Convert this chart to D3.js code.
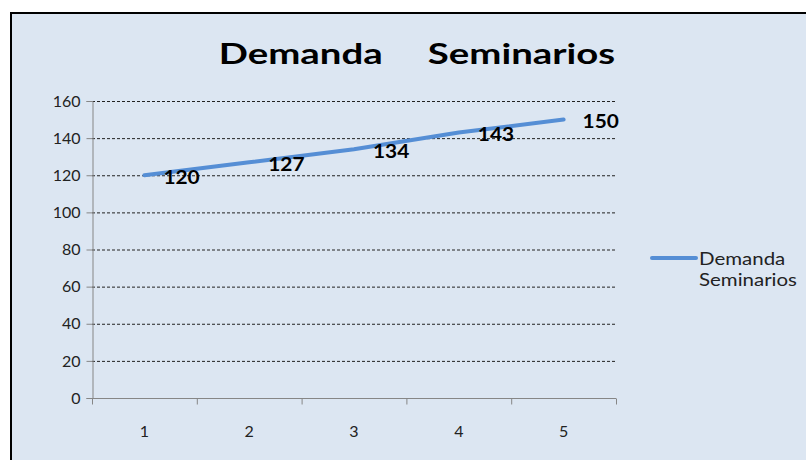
<!DOCTYPE html>
<html>
<head>
<meta charset="utf-8">
<script src="https://cdn.jsdelivr.net/npm/d3@7"></script>
<style>
  html, body { margin: 0; padding: 0; background: #fff; }
  svg { display: block; }
</style>
</head>
<body>
<svg width="806" height="460"></svg>
<script>
  // chart data
  var categories = ['1', '2', '3', '4', '5'];
  var values = [120, 127, 134, 143, 150];
  var yTicks = [0, 20, 40, 60, 80, 100, 120, 140, 160];
  var seriesName = ['Demanda', 'Seminarios'];
  var titleWords = ['Demanda', 'Seminarios'];

  var svg = d3.select('svg');
  var font = 'Lato, "Open Sans", sans-serif';
  var lineColor = '#558ed5';

  // text in the picture is a bit wider than Lato, so stretch it sideways
  function wideText(parent, px, py, sx) {
    return parent.append('g')
      .attr('transform', 'translate(' + px + ',' + py + ') scale(' + sx + ',1)')
      .append('text')
      .style('font-family', font);
  }

  // frame + background
  svg.append('rect')
    .attr('x', 11).attr('y', 13)
    .attr('width', 806).attr('height', 460)
    .attr('fill', '#dce6f2')
    .attr('stroke', '#000')
    .attr('stroke-width', 2);

  var margin = { left: 92, top: 101, right: 616, bottom: 398 };

  var x = d3.scaleBand()
    .domain(categories)
    .range([margin.left, margin.right]);
  var y = d3.scaleLinear()
    .domain([0, 160])
    .range([margin.bottom, margin.top]);

  // title
  var title = wideText(svg, 417, 64, 1.37)
    .attr('text-anchor', 'middle')
    .style('font-weight', 'bold')
    .style('font-size', '28px')
    .attr('fill', '#000');
  title.append('tspan').text(titleWords[0]);
  title.append('tspan').attr('dx', 33).text(titleWords[1]);

  // gridlines
  svg.append('g')
    .selectAll('line')
    .data(yTicks.filter(function(d) { return d > 0; }))
    .enter().append('line')
      .attr('x1', margin.left).attr('x2', margin.right)
      .attr('y1', function(d) { return y(d) + 0.5; })
      .attr('y2', function(d) { return y(d) + 0.5; })
      .attr('stroke', '#222')
      .attr('stroke-width', 1)
      .attr('stroke-dasharray', '3,2');

  // y axis
  var yAxis = svg.append('g')
    .attr('transform', 'translate(' + (margin.left + 0.5) + ',0)')
    .call(d3.axisLeft(y).tickValues(yTicks).tickSize(6).tickPadding(6));
  yAxis.select('.domain').attr('stroke', '#868686');
  yAxis.selectAll('.tick line').attr('stroke', '#868686');
  yAxis.selectAll('text')
    .style('font-family', font)
    .style('font-size', '16px')
    .attr('fill', '#222');

  // x axis
  var xAxis = svg.append('g')
    .attr('transform', 'translate(0,' + (margin.bottom + 0.5) + ')')
    .call(d3.axisBottom(x).tickSize(0).tickPadding(27));
  xAxis.select('.domain').attr('stroke', '#868686').attr('d',
    'M' + margin.left + ',0H' + margin.right);
  xAxis.selectAll('text')
    .style('font-family', font)
    .style('font-size', '16px')
    .attr('fill', '#222');
  // ticks between categories
  var edges = categories.map(function(c) { return x(c); }).concat([margin.right]);
  xAxis.selectAll('.edge')
    .data(edges)
    .enter().append('line')
      .attr('class', 'edge')
      .attr('x1', function(d) { return d + 0.5; })
      .attr('x2', function(d) { return d + 0.5; })
      .attr('y1', 0).attr('y2', 6)
      .attr('stroke', '#868686');

  // line
  var cx = function(d, i) { return x(categories[i]) + x.bandwidth() / 2; };
  var line = d3.line()
    .x(cx)
    .y(function(d) { return y(d); });

  svg.append('path')
    .datum(values)
    .attr('fill', 'none')
    .attr('stroke', lineColor)
    .attr('stroke-width', 4)
    .attr('stroke-linecap', 'round')
    .attr('d', line);

  // data labels
  var labels = svg.append('g');
  values.forEach(function(d, i) {
    wideText(labels, cx(d, i) + 19, y(d) + 2, 1.13)
      .attr('dy', '0.35em')
      .style('font-weight', 'bold')
      .style('font-size', '18.5px')
      .attr('fill', '#000')
      .text(d);
  });

  // legend
  svg.append('line')
    .attr('x1', 652).attr('x2', 696)
    .attr('y1', 258).attr('y2', 258)
    .attr('stroke', lineColor)
    .attr('stroke-width', 4)
    .attr('stroke-linecap', 'round');
  var leg = wideText(svg, 699, 0, 1.17)
    .style('font-size', '17.5px')
    .attr('fill', '#222');
  leg.append('tspan').attr('x', 0).attr('y', 265).text(seriesName[0]);
  leg.append('tspan').attr('x', 0).attr('y', 286).text(seriesName[1]);
</script>
</body>
</html>
